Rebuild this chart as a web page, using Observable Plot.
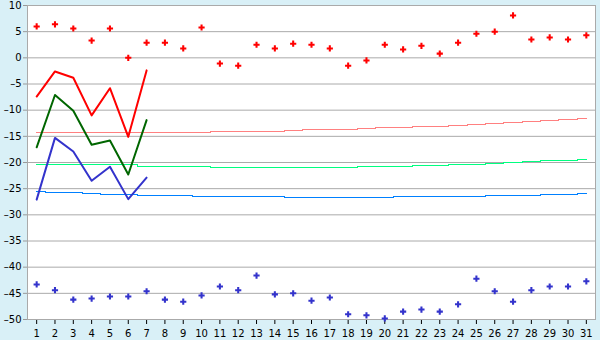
<!DOCTYPE html>
<html><head><meta charset="utf-8">
<script src="https://cdn.jsdelivr.net/npm/d3@7"></script>
<script src="https://cdn.jsdelivr.net/npm/@observablehq/plot@0.6"></script>
<style>html,body{margin:0;padding:0;background:#d9f0f7;}</style>
</head><body><div id="chart"></div>
<script>
const days = [1,2,3,4,5,6,7,8,9,10,11,12,13,14,15,16,17,18,19,20,21,22,23,24,25,26,27,28,29,30,31];
const yTicks = [-50,-45,-40,-35,-30,-25,-20,-15,-10,-5,0,5,10];

// daily extreme points
const maxPoints = [6.0,6.4,5.6,3.3,5.6,0.0,2.9,2.9,1.8,5.8,-1.1,-1.5,2.5,1.8,2.7,2.5,1.8,-1.5,-0.5,2.5,1.6,2.3,0.8,2.9,4.6,5.0,8.1,3.5,3.9,3.5,4.3];
const minPoints = [-43.3,-44.4,-46.2,-46.0,-45.6,-45.6,-44.6,-46.2,-46.6,-45.4,-43.7,-44.4,-41.6,-45.2,-45.0,-46.4,-45.8,-49.0,-49.2,-49.8,-48.5,-48.1,-48.5,-47.1,-42.2,-44.6,-46.6,-44.4,-43.7,-43.7,-42.7];

// observed series (first 7 days)
const obsDays = [1,2,3,4,5,6,7];
const obsMax = [-7.4,-2.6,-3.8,-11.0,-5.8,-15.1,-2.4];
const obsMean = [-17.1,-7.1,-10.1,-16.6,-15.8,-22.3,-11.9];
const obsMin = [-27.1,-15.3,-17.9,-23.5,-20.8,-27.0,-22.9];

// climatological normals
const normMax = [-14.3,-14.3,-14.3,-14.3,-14.3,-14.3,-14.3,-14.3,-14.3,-14.3,-14.1,-14.1,-14.1,-14.1,-13.9,-13.7,-13.7,-13.7,-13.5,-13.3,-13.3,-13.1,-13.1,-12.9,-12.7,-12.5,-12.4,-12.2,-12.0,-11.8,-11.6];
const normMean = [-20.4,-20.4,-20.4,-20.4,-20.4,-20.4,-20.8,-20.8,-20.8,-20.8,-21.0,-21.0,-21.0,-21.0,-21.0,-21.0,-21.0,-21.0,-20.8,-20.8,-20.8,-20.6,-20.6,-20.4,-20.4,-20.2,-20.0,-19.8,-19.6,-19.6,-19.4];
const normMin = [-25.5,-25.7,-25.7,-25.9,-26.05,-26.05,-26.25,-26.25,-26.25,-26.5,-26.5,-26.5,-26.5,-26.5,-26.7,-26.7,-26.7,-26.7,-26.7,-26.7,-26.5,-26.5,-26.5,-26.5,-26.5,-26.3,-26.3,-26.3,-26.1,-26.1,-25.9];

const tbl = (xs, ys) => xs.map((d, i) => ({day: d, v: ys[i]}));
const fmt = d => d < 0 ? "\u2013" + (-d) : String(d);

const chart = Plot.plot({
  width: 600,
  height: 340,
  marginLeft: 27,
  marginRight: 5,
  marginTop: 5,
  marginBottom: 21,
  style: {fontFamily: "DejaVu Sans", fontSize: "10px", background: "#d9f0f7", color: "#000"},
  x: {type: "point", domain: days, padding: 0.5, round: false, label: null, axis: null},
  y: {domain: [-50, 10], label: null, axis: null},
  marks: [
    Plot.frame({fill: "white", stroke: null}),
    Plot.ruleY(yTicks, {stroke: "#aaa", strokeWidth: 1}),
    Plot.axisY({ticks: yTicks, tickFormat: fmt, tickSize: 4, tickPadding: 2, stroke: "#999", label: null}),
    Plot.axisX({ticks: days, tickSize: 5, tickPadding: 5, label: null}),
    Plot.frame({stroke: "#aaa"}),
    Plot.line(tbl(days, normMax), {x: "day", y: "v", curve: "step", stroke: "#ff8080", strokeWidth: 1, shapeRendering: "crispEdges"}),
    Plot.line(tbl(days, normMean), {x: "day", y: "v", curve: "step", stroke: "#00ff80", strokeWidth: 1, shapeRendering: "crispEdges"}),
    Plot.line(tbl(days, normMin), {x: "day", y: "v", curve: "step", stroke: "#0080ff", strokeWidth: 1, shapeRendering: "crispEdges"}),
    Plot.line(tbl(obsDays, obsMax), {x: "day", y: "v", stroke: "#ff0000", strokeWidth: 2}),
    Plot.line(tbl(obsDays, obsMean), {x: "day", y: "v", stroke: "#006600", strokeWidth: 2}),
    Plot.line(tbl(obsDays, obsMin), {x: "day", y: "v", stroke: "#3333cc", strokeWidth: 2}),
    Plot.dot(tbl(days, maxPoints), {x: "day", y: "v", symbol: "cross", r: 2.6, fill: "#ff0000", stroke: null}),
    Plot.dot(tbl(days, minPoints), {x: "day", y: "v", symbol: "cross", r: 2.6, fill: "#3333cc", stroke: null})
  ]
});
document.getElementById("chart").appendChild(chart);
</script>
</body></html>
